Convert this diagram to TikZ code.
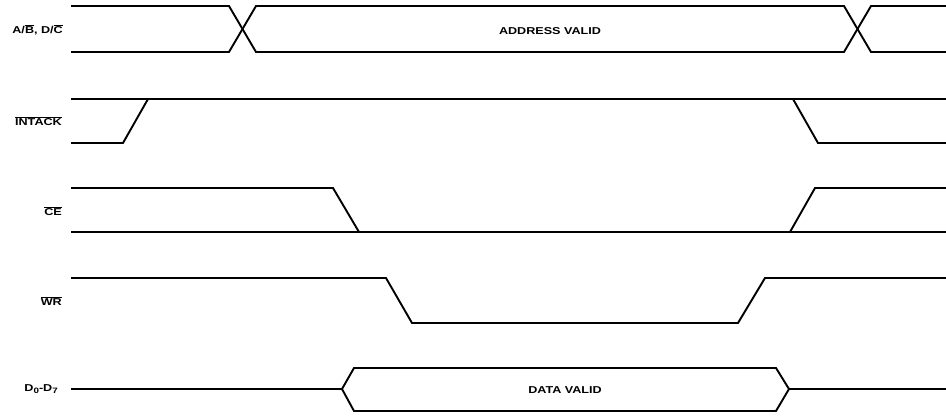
\documentclass[tikz,border=0pt]{standalone}
\usepackage{fontspec}
\setmainfont{Liberation Sans}
\newfontfamily\widefont[FakeStretch=1.26]{Liberation Sans}
\newcommand{\ovl}[1]{$\overline{\mbox{#1}}$}
\newcommand{\lowsub}[1]{\raisebox{-2.2pt}{\fontsize{7.8}{8}\selectfont #1}}
\tikzset{
  sig/.style={line width=1.9pt, line join=miter, line cap=butt},
  lbl/.style={font=\widefont\bfseries\fontsize{10}{11}\selectfont, anchor=east, inner sep=0pt},
  val/.style={font=\widefont\bfseries\fontsize{10}{11}\selectfont, inner sep=0pt}
}
\begin{document}
\begin{tikzpicture}[x=1pt,y=-1pt]
\useasboundingbox (0,0) rectangle (946,417);
% labels
\node[lbl] (la) at (63,30) {A/\ovl{B}, D/\ovl{C}};
\node[lbl] (li) at (62,121) {\ovl{INTACK}};
\node[lbl] (lc) at (62,211) {\ovl{CE}};
\node[lbl] (lw) at (62,301) {\ovl{WR}};
\node[lbl] (ld) at (58,389) {D\lowsub{0}-D\lowsub{7}};
\node[val] (av) at (550,31) {ADDRESS VALID};
\node[val] (dv) at (565,390) {DATA VALID};
% A/B, D/C
\draw[sig] (71,6) -- (229,6) -- (256,52) -- (844,52) -- (871,6) -- (946,6);
\draw[sig] (71,52) -- (229,52) -- (256,6) -- (844,6) -- (871,52) -- (946,52);
% INTACK
\draw[sig] (71,99) -- (946,99);
\draw[sig] (71,143) -- (123,143) -- (148,99);
\draw[sig] (793,99) -- (818,143) -- (946,143);
% CE
\draw[sig] (71,188) -- (333,188) -- (359,232);
\draw[sig] (71,232) -- (946,232);
\draw[sig] (790,232) -- (815,188) -- (946,188);
% WR
\draw[sig] (71,278) -- (386,278) -- (412,323) -- (738,323) -- (765,278) -- (946,278);
% D0-D7
\draw[sig] (71,389) -- (342,389) -- (354,368) -- (776,368) -- (789,389) -- (946,389);
\draw[sig] (342,389) -- (354,411) -- (776,411) -- (789,389);
\end{tikzpicture}
\end{document}
